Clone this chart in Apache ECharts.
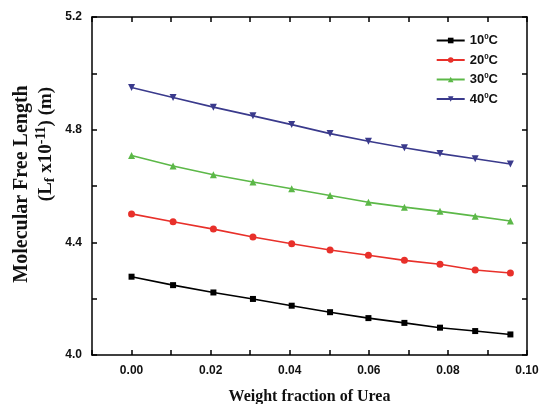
<!DOCTYPE html>
<html>
<head>
<meta charset="utf-8">
<script src="https://cdn.jsdelivr.net/npm/echarts@6/dist/echarts.min.js"></script>
<style>
html,body{margin:0;padding:0;background:#fff;}
#chart{width:539px;height:404px;}
</style>
</head>
<body>
<div id="chart"></div>
<script>
// Weight fraction of urea (x) and molecular free length (Lf x 10^-11 m) per temperature
const weightFraction = [0, 0.0105, 0.0207, 0.0307, 0.0405, 0.0502, 0.0599, 0.0690, 0.0780, 0.0869, 0.0958];
const temps = ['10', '20', '30', '40'];
const lf10 = [4.278, 4.248, 4.222, 4.199, 4.175, 4.152, 4.131, 4.114, 4.097, 4.085, 4.073];
const lf20 = [4.501, 4.473, 4.447, 4.419, 4.395, 4.373, 4.354, 4.336, 4.322, 4.302, 4.291];
const lf30 = [4.708, 4.671, 4.640, 4.614, 4.590, 4.566, 4.542, 4.525, 4.510, 4.493, 4.476];
const lf40 = [4.950, 4.914, 4.880, 4.849, 4.818, 4.786, 4.759, 4.736, 4.715, 4.697, 4.678];

const seriesValues = [lf10, lf20, lf30, lf40];
const colors = ['#000000', '#e8302a', '#5cb848', '#3a3a8c'];
const symbols = ['rect', 'circle', 'triangle', 'path://M0,0 L10,0 L5,9 Z'];
const symbolSizes = [6, 7, 7, 7];

const chart = echarts.init(document.getElementById('chart'));

const names = temps.map(t => t + '°C');

const series = seriesValues.map((vals, i) => ({
  name: names[i],
  type: 'line',
  data: weightFraction.map((x, j) => [x, vals[j]]),
  symbol: symbols[i],
  symbolSize: symbolSizes[i],
  showSymbol: true,
  lineStyle: { color: colors[i], width: 1.6 },
  itemStyle: { color: colors[i] },
  xAxisIndex: 0,
  yAxisIndex: 0
}));

const boxAxisLine = { show: true, onZero: false, lineStyle: { color: '#000', width: 1.5 } };
const inTicks = { show: true, inside: true, length: 5, lineStyle: { color: '#000', width: 1.5 } };

chart.setOption({
  animation: false,
  backgroundColor: '#fff',
  grid: { left: 92, right: 12, top: 17, bottom: 49, outerBoundsMode: 'none', containLabel: false },
  legend: {
    data: names,
    orient: 'vertical',
    right: 36,
    top: 28,
    itemWidth: 28,
    itemHeight: 7,
    itemGap: 5.5,
    textStyle: {
      rich: {
        a: { fontFamily: 'Liberation Sans', fontWeight: 'bold', fontSize: 13, color: '#111' },
        s: { fontFamily: 'Liberation Sans', fontWeight: 'bold', fontSize: 8, color: '#111', padding: [0, 0, 7, 0] }
      }
    },
    formatter: function (n) {
      const t = n.replace('°C', '');
      return '{a|' + t + '}{s|0}{a|C}';
    }
  },
  xAxis: [{
    type: 'value',
    min: -0.01,
    max: 0.10,
    interval: 0.01,
    axisLine: boxAxisLine,
    axisTick: inTicks,
    splitLine: { show: false },
    axisLabel: {
      margin: 10,
      fontFamily: 'Liberation Sans',
      fontWeight: 'bold',
      fontSize: 12,
      color: '#111',
      formatter: function (v) {
        const k = Math.round(v * 100);
        return (k >= 0 && k % 2 === 0) ? v.toFixed(2) : '';
      }
    },
    name: 'Weight fraction of Urea',
    nameLocation: 'middle',
    nameGap: 34,
    nameTextStyle: { fontFamily: 'Liberation Serif', fontWeight: 'bold', fontSize: 16, color: '#111' }
  }, {
    type: 'value',
    position: 'top',
    min: -0.01,
    max: 0.10,
    interval: 0.01,
    axisLine: boxAxisLine,
    axisTick: inTicks,
    axisLabel: { show: false },
    splitLine: { show: false }
  }],
  yAxis: [{
    type: 'value',
    min: 4.0,
    max: 5.2,
    interval: 0.2,
    axisLine: boxAxisLine,
    axisTick: inTicks,
    splitLine: { show: false },
    axisLabel: {
      margin: 10,
      fontFamily: 'Liberation Sans',
      fontWeight: 'bold',
      fontSize: 12,
      color: '#111',
      formatter: function (v) {
        const k = Math.round(v * 10);
        return k % 4 === 0 ? v.toFixed(1) : '';
      }
    }
  }, {
    type: 'value',
    position: 'right',
    min: 4.0,
    max: 5.2,
    interval: 0.2,
    axisLine: boxAxisLine,
    axisTick: inTicks,
    axisLabel: { show: false },
    splitLine: { show: false }
  }],
  graphic: [{
    type: 'text',
    x: 22,
    y: 184,
    rotation: Math.PI / 2,
    style: {
      text: 'Molecular Free Length',
      font: 'bold 20px "Liberation Serif"',
      fill: '#111',
      align: 'center',
      verticalAlign: 'middle'
    }
  }, {
    type: 'text',
    x: 46,
    y: 144,
    rotation: Math.PI / 2,
    style: {
      text: '{p|(L}{sub|f}{p| x10}{sup|-11}{p|) (m)}',
      fill: '#111',
      align: 'center',
      verticalAlign: 'middle',
      rich: {
        p: { fontFamily: 'Liberation Serif', fontWeight: 'bold', fontSize: 19, fill: '#111' },
        sub: { fontFamily: 'Liberation Serif', fontWeight: 'bold', fontSize: 14, fill: '#111', padding: [8, 0, 0, 0] },
        sup: { fontFamily: 'Liberation Serif', fontWeight: 'bold', fontSize: 14, fill: '#111', padding: [0, 0, 9, 0] }
      }
    }
  }],
  series: series
});
</script>
</body>
</html>
